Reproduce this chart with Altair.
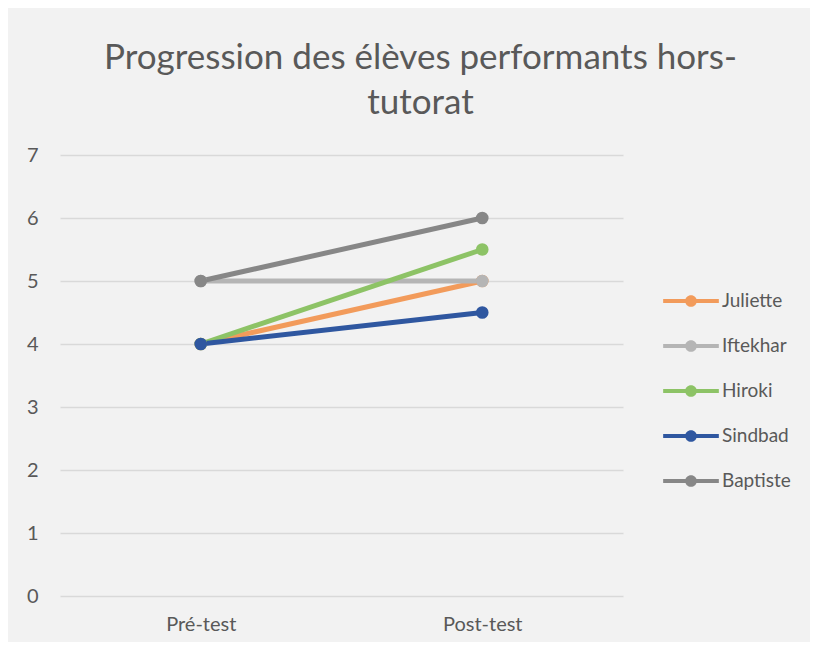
import altair as alt
import pandas as pd

tests = ["Pré-test", "Post-test"]
students = ["Juliette", "Iftekhar", "Hiroki", "Sindbad", "Baptiste"]
juliette = [4, 5]
iftekhar = [5, 5]
hiroki = [4, 5.5]
sindbad = [4, 4.5]
baptiste = [5, 6]
colors = ["#F29B5B", "#B5B5B5", "#8DC366", "#2F57A0", "#878787"]

series = [juliette, iftekhar, hiroki, sindbad, baptiste]
rows = []
for i, (name, vals) in enumerate(zip(students, series)):
    for t, v in zip(tests, vals):
        rows.append({"Élève": name, "Test": t, "Score": v, "ordre": i})
df = pd.DataFrame(rows)

x = alt.X("Test:N", sort=tests, title=None,
          scale=alt.Scale(type="point", padding=0.5),
          axis=alt.Axis(labelAngle=0, ticks=False, domain=False, grid=False,
                        labelFontSize=20, labelColor="#595959", labelPadding=18,
                        labelFont="Lato"))
y = alt.Y("Score:Q", title=None,
          scale=alt.Scale(domain=[0, 7], nice=False),
          axis=alt.Axis(values=[0, 1, 2, 3, 4, 5, 6, 7], ticks=False, domain=False,
                        gridColor="#D9D9D9", gridWidth=1.5,
                        labelFontSize=20, labelColor="#595959", labelPadding=22,
                        labelFont="Lato"))

legend_path = ("M-1,-0.075 L1,-0.075 L1,0.075 L-1,0.075 Z "
               "M0.21,0 A0.21,0.21 0 1 1 -0.21,0 A0.21,0.21 0 1 1 0.21,0 Z")

scale = alt.Scale(domain=students, range=colors)
base = alt.Chart(df).encode(x=x, y=y)
lines = base.mark_line(strokeWidth=5).encode(
    color=alt.Color("Élève:N", scale=scale, legend=None),
    detail="Élève:N",
)
pts = base.mark_point(filled=True, size=160, opacity=1).encode(
    color=alt.Color("Élève:N", scale=scale,
                    legend=alt.Legend(
                        title=None, orient="none", legendX=603, legendY=118,
                        symbolType=legend_path, symbolSize=3100,
                        symbolStrokeWidth=0, symbolOpacity=1,
                        labelFontSize=19, labelColor="#595959", labelFont="Lato",
                        labelOffset=3, rowPadding=7)),
    order=alt.Order("ordre:Q"),
)

chart = alt.layer(lines, pts).resolve_legend(color="independent").properties(
    width=563, height=441,
    autosize=alt.AutoSizeParams(type="none"),
    padding={"left": 52, "top": 147, "right": 187, "bottom": 46},
    background="#F2F2F2",
    title=alt.Title(
        ["Progression des élèves performants hors-", "tutorat"],
        fontSize=35, font="Lato", fontWeight="normal", color="#595959",
        lineHeight=45, anchor="middle", dx=79, offset=24,
    ),
).configure_view(stroke=None)

chart.save("out.html", embed_options={"renderer": "svg", "actions": False})
